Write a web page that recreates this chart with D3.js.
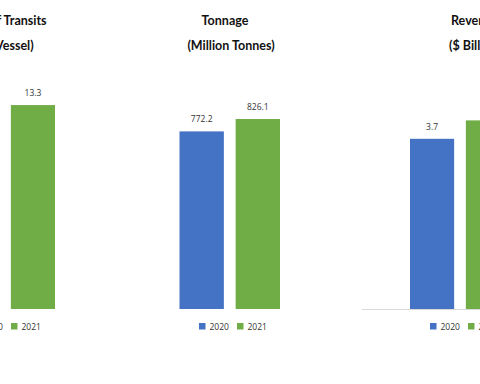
<!DOCTYPE html>
<html><head><meta charset="utf-8">
<script src="https://cdn.jsdelivr.net/npm/d3@7"></script>
<style>
html,body{margin:0;padding:0;background:#fff;overflow:hidden;}
</style></head>
<body>
<svg id="c" width="480" height="384"></svg>
<script>
const years = ["2020", "2021"];
const panelTitles = [
  ["Number of Transits", "(Thousand Vessel)"],
  ["Tonnage", "(Million Tonnes)"],
  ["Revenue", "($ Billion)"]
];
const transits = [13.4, 13.3];
const tonnage = [772.2, 826.1];
const revenue = [3.7, 4.1];
const yMax = [13.5, 900, 4.5];

const colors = {"2020": "#4472C4", "2021": "#70AD47"};
const series = [transits, tonnage, revenue];

// layout per panel
const panels = [
  {x0: -45, x1: 55, t1: -6, t2: -16, leg: -27, axis: false},
  {x0: 179.5, x1: 280, t1: 225, t2: 231, leg: 199, axis: false},
  {x0: 410, x1: 510, t1: 475, t2: 475, leg: 430, axis: true, axisStart: 362}
];
const baseY = 309, topY = 102;

const svg = d3.select("#c");
const titleFont = "Lato, 'Open Sans', sans-serif";

panels.forEach((p, i) => {
  const g = svg.append("g");
  const x = d3.scaleBand().domain(years).range([p.x0, p.x1]).paddingInner(0.21).paddingOuter(0);
  const y = d3.scaleLinear().domain([0, yMax[i]]).range([baseY, topY]);
  const data = years.map((yr, k) => ({year: yr, value: series[i][k]}));

  if (p.axis) {
    g.append("line").attr("x1", p.axisStart).attr("x2", p.x1 + 60)
      .attr("y1", baseY + 0.5).attr("y2", baseY + 0.5)
      .attr("stroke", "#d9d9d9").attr("stroke-width", 1);
  }

  g.selectAll("rect.bar").data(data).join("rect")
    .attr("class", "bar")
    .attr("x", d => x(d.year))
    .attr("width", x.bandwidth())
    .attr("y", d => y(d.value))
    .attr("height", d => baseY - y(d.value))
    .attr("fill", d => colors[d.year]);

  g.selectAll("text.lbl").data(data).join("text")
    .attr("class", "lbl")
    .attr("x", d => x(d.year) + x.bandwidth() / 2)
    .attr("y", d => y(d.value) - 9)
    .attr("text-anchor", "middle")
    .attr("font-family", "'Open Sans', sans-serif")
    .attr("font-size", 8.5)
    .attr("fill", "#333")
    .text(d => d3.format(".1f")(d.value));

  g.append("text").attr("x", p.t1).attr("y", 25)
    .attr("text-anchor", "middle").attr("font-family", titleFont)
    .attr("font-weight", "bold").attr("font-size", 12.5).attr("fill", "#111")
    .text(panelTitles[i][0]);
  g.append("text").attr("x", p.t2).attr("y", 50)
    .attr("text-anchor", "middle").attr("font-family", titleFont)
    .attr("font-weight", "bold").attr("font-size", 12.5).attr("fill", "#111")
    .text(panelTitles[i][1]);

  const lg = g.selectAll("g.leg").data(years).join("g")
    .attr("class", "leg")
    .attr("transform", (d, k) => `translate(${p.leg + k * 38},0)`);
  lg.append("rect").attr("x", 0).attr("y", 323).attr("width", 6.5).attr("height", 6.5)
    .attr("fill", d => colors[d]);
  lg.append("text").attr("x", 10.5).attr("y", 329.5)
    .attr("font-family", "'Open Sans', sans-serif").attr("font-size", 8.5)
    .attr("fill", "#333").text(d => d);
});
</script>
</body></html>
